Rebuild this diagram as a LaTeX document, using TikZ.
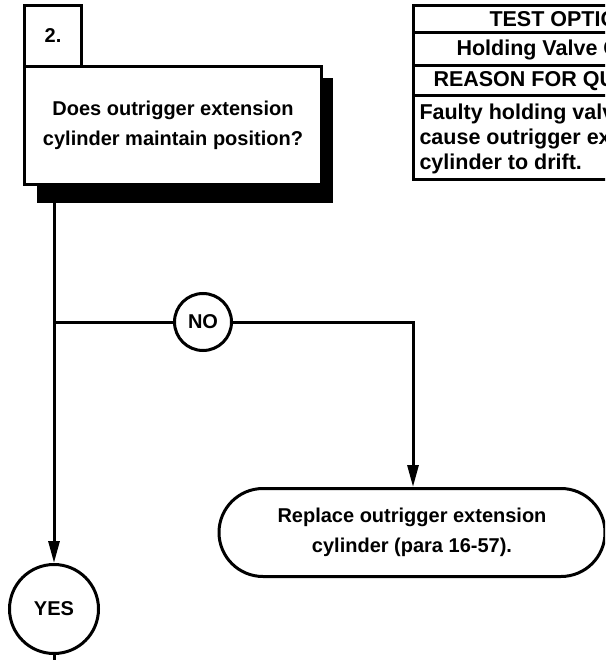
\documentclass[tikz,border=0pt]{standalone}
\usepackage{fontspec}
\setmainfont{Liberation Sans}
\usetikzlibrary{arrows.meta,shapes.misc}

\begin{document}
\begin{tikzpicture}[x=1pt,y=-1pt,line width=3pt,
  every node/.style={font=\bfseries\fontsize{20}{30}\selectfont,inner sep=0pt},
  numbox/.style={draw,fill=white,minimum width=57pt,minimum height=61pt},
  qbox/.style={draw,fill=white,align=center,minimum width=297pt,minimum height=118pt},
  cell/.style={anchor=west,font=\bfseries\fontsize{21.5}{25}\selectfont},
  answer/.style={draw,circle,fill=white},
  fixbox/.style={draw,rounded rectangle,align=center,minimum width=386pt,minimum height=88pt},
  flow/.style={-{Triangle[length=22pt,width=11pt]}}]
\useasboundingbox (0,0) rectangle (605,660);
\clip (0,0) rectangle (605,660);

% question box with its shadow
\fill (37,78) rectangle (333,203);
\node[qbox] (n2) at (173,125.5) {Does outrigger extension\\cylinder maintain position?};
\node[numbox] (n1) at (53,36) {2.};

% test option table
\draw (413.5,5.5) rectangle (720,180);
\draw (413.5,33) -- (720,33);
\draw (413.5,66) -- (720,66);
\draw (413.5,96) -- (720,96);
\node[cell] (t1) at (488,19) {TEST OPTION};
\node[cell] (t2) at (455,50) {Holding Valve Check};
\node[cell] (t3) at (432,81) {REASON FOR QUESTION};
\node[cell,align=left] (t4) at (418,139)
  {Faulty holding valve may\\cause outrigger extension\\cylinder to drift.};

% answers
\node[answer,minimum size=57pt] (no) at (203,322) {NO};
\node[answer,minimum size=89pt] (yes) at (54,609) {YES};
\node[fixbox] (fix) at (412,532.5) {Replace outrigger extension\\cylinder (para 16-57).};

\coordinate (s) at (54,203);
\coordinate (j) at (54,322);
\coordinate (c) at (413,322);
\coordinate (e) at (54,660);
\draw[flow] (s) -- (yes);
\draw (j) -- (no);
\draw[flow] (no) -- (c) -- (c |- fix.north);
\draw (yes) -- (e);
\end{tikzpicture}
\end{document}
